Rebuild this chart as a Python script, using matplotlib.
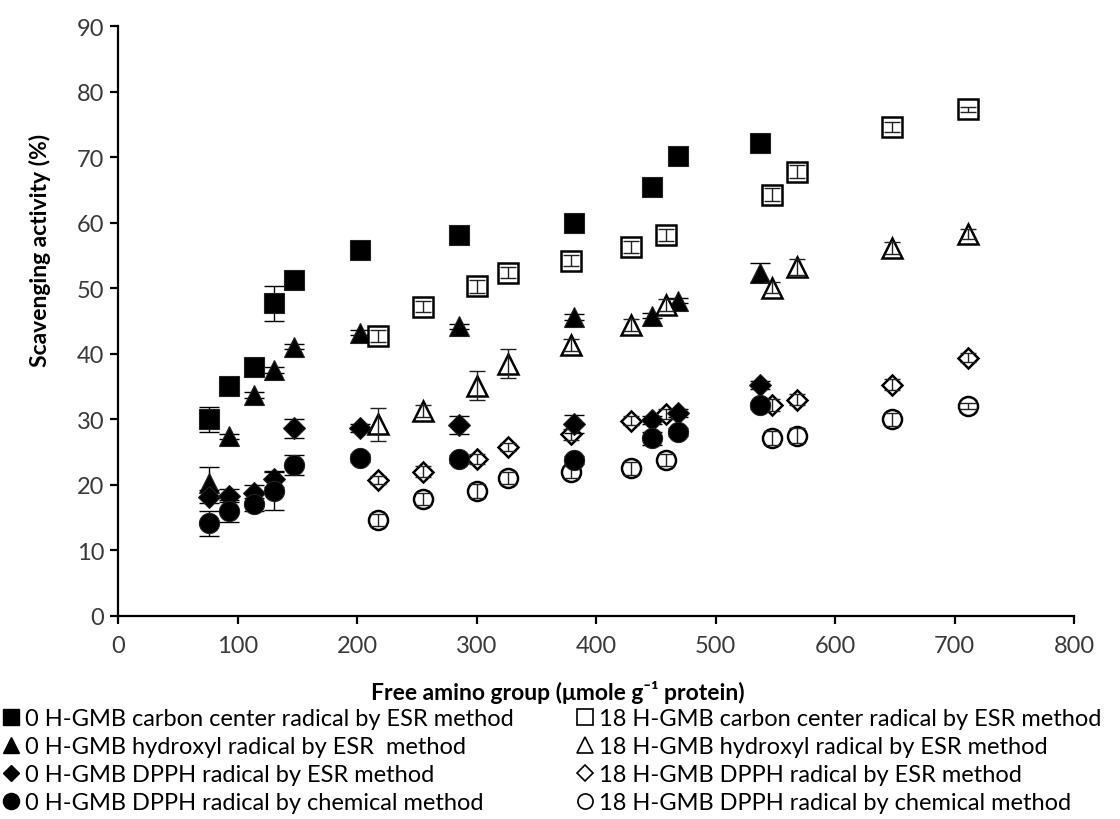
import numpy as np
import matplotlib
matplotlib.use("Agg")
import matplotlib.pyplot as plt
from matplotlib.lines import Line2D

plt.rcParams['font.family'] = ['Lato', 'DejaVu Sans']

# free amino group, 0 h and 18 h fermentation
x0 = [75.9, 92.9, 113.3, 130.6, 147.3, 202.3, 285.4, 381.7, 446.5, 468.7, 537.1]
x18 = [217.6, 255.3, 300.5, 325.9, 378.9, 428.9, 458.2, 546.9, 568.3, 648.0, 711.0]

# 0 H-GMB
carbon0 = [30.0, 35.1, 38.0, 47.7, 51.3, 55.8, 58.1, 59.9, 65.5, 70.2, 72.1]
carbon0_err = [1.9, 1.2, 0.8, 2.7, 1.0, 0.6, 0.6, 0.6, 0.6, 0.6, 0.6]
hydroxyl0 = [20.3, 27.4, 33.7, 37.5, 41.1, 43.2, 44.2, 45.6, 45.8, 48.1, 52.4]
hydroxyl0_err = [2.4, 0.4, 0.4, 0.4, 0.4, 0.4, 0.4, 0.4, 0.4, 0.4, 1.4]
dpph_esr0 = [18.2, 18.3, 18.7, 20.9, 28.6, 28.6, 29.1, 29.3, 29.9, 31.0, 35.2]
dpph_esr0_err = [1.0, 1.0, 1.3, 1.2, 1.5, 0.6, 1.4, 1.4, 0.6, 0.6, 0.6]
dpph_chem0 = [14.1, 16.0, 17.0, 19.1, 23.0, 24.1, 23.9, 23.8, 27.1, 28.1, 32.1]
dpph_chem0_err = [1.9, 1.7, 1.0, 2.9, 1.5, 0.6, 0.6, 0.6, 1.0, 0.6, 0.6]

# 18 H-GMB
carbon18 = [42.7, 47.2, 50.3, 52.4, 54.2, 56.3, 58.1, 64.3, 67.8, 74.6, 77.3]
carbon18_err = [0.9, 0.8, 1.0, 0.8, 0.8, 0.9, 0.9, 1.0, 1.0, 0.8, 0.4]
hydroxyl18 = [29.2, 31.2, 35.1, 38.5, 41.3, 44.4, 47.4, 50.1, 53.2, 56.1, 58.3]
hydroxyl18_err = [2.5, 0.9, 2.2, 2.2, 0.9, 0.9, 0.9, 0.9, 1.2, 0.9, 0.8]
dpph_esr18 = [20.7, 22.0, 23.9, 25.8, 27.7, 29.8, 30.8, 32.2, 33.0, 35.3, 39.4]
dpph_esr18_err = [0.6, 0.8, 0.8, 0.6, 0.8, 0.7, 0.8, 0.9, 0.8, 0.8, 0.7]
dpph_chem18 = [14.6, 17.8, 19.0, 21.0, 22.0, 22.5, 23.8, 27.1, 27.5, 30.0, 32.0]
dpph_chem18_err = [0.9, 0.9, 1.1, 0.9, 0.9, 1.0, 0.9, 1.1, 1.2, 1.0, 0.5]

labels0 = ['0 H-GMB carbon center radical by ESR method',
           '0 H-GMB hydroxyl radical by ESR  method',
           '0 H-GMB DPPH radical by ESR method',
           '0 H-GMB DPPH radical by chemical method']
labels18 = ['18 H-GMB carbon center radical by ESR method',
            '18 H-GMB hydroxyl radical by ESR method',
            '18 H-GMB DPPH radical by ESR method',
            '18 H-GMB DPPH radical by chemical method']

markers = ['s', '^', 'D', 'o']
sizes = [14.5, 14.5, 10.8, 14.5]

fig = plt.figure(figsize=(11.2, 8.2), dpi=100)
ax = fig.add_axes([0.1056, 0.2479, 0.9590 - 0.1056, 0.9668 - 0.2479])

series0 = [(carbon0, carbon0_err), (hydroxyl0, hydroxyl0_err),
           (dpph_esr0, dpph_esr0_err), (dpph_chem0, dpph_chem0_err)]
series18 = [(carbon18, carbon18_err), (hydroxyl18, hydroxyl18_err),
            (dpph_esr18, dpph_esr18_err), (dpph_chem18, dpph_chem18_err)]

# drawing order per series (open triangles over filled ones, filled diamonds/circles on top)
z0 = [3, 3, 7, 9]
z18 = [4, 5, 5, 6]

for (y, e), m, s, z in zip(series0, markers, sizes, z0):
    ax.errorbar(x0, y, yerr=e, fmt='none', ecolor='black', elinewidth=1,
                capsize=7, capthick=1, zorder=z - 0.5)
    ax.plot(x0, y, linestyle='none', marker=m, markersize=s,
            markerfacecolor='black', markeredgecolor='#222222',
            markeredgewidth=0.8, zorder=z)

for (y, e), m, s, z in zip(series18, markers, sizes, z18):
    ax.plot(x18, y, linestyle='none', marker=m, markersize=s - 0.8,
            markerfacecolor='white', markeredgecolor='black',
            markeredgewidth=1.8, zorder=z)
    ax.errorbar(x18, y, yerr=e, fmt='none', ecolor='#222222', elinewidth=1,
                capsize=6, capthick=1, zorder=z + 0.2)

ax.set_xlim(0, 800)
ax.set_ylim(0, 90)
ax.set_xticks(np.arange(0, 801, 100))
ax.set_yticks(np.arange(0, 91, 10))
for side in ['top', 'right']:
    ax.spines[side].set_visible(False)
for side in ['left', 'bottom']:
    ax.spines[side].set_linewidth(1.6)
ax.tick_params(axis='both', direction='out', length=6, width=1.6,
               labelsize=17, labelcolor='#3a3a3a')
ax.tick_params(axis='y', pad=4)
ax.tick_params(axis='x', pad=8)

fig.text(40 / 1120, 1 - 250 / 820, 'Scavenging activity (%)', rotation=90,
         ha='center', va='center', fontsize=16.5, fontweight='bold')
fig.text(558 / 1120, 1 - 693 / 820, 'Free amino group (μmole g⁻¹ protein)',
         ha='center', va='center', fontsize=16.5, fontweight='bold')

handles0 = [Line2D([], [], linestyle='none', marker=m, markersize=s * 0.8,
                   markerfacecolor='black', markeredgecolor='black')
            for m, s in zip(markers, sizes)]
handles18 = [Line2D([], [], linestyle='none', marker=m, markersize=s * 0.75,
                    markerfacecolor='white', markeredgecolor='black',
                    markeredgewidth=1.2)
             for m, s in zip(markers, sizes)]

leg_kw = dict(frameon=False, fontsize=17, handlelength=0.6, handletextpad=0.3,
              labelspacing=0.3, borderaxespad=0, borderpad=0)
leg1 = fig.legend(handles0, labels0, loc='upper left',
                  bbox_to_anchor=(4 / 1120, 1 - 709 / 820), **leg_kw)
leg2 = fig.legend(handles18, labels18, loc='upper left',
                  bbox_to_anchor=(578 / 1120, 1 - 709 / 820), **leg_kw)

fig.savefig('out.png', dpi=100)
